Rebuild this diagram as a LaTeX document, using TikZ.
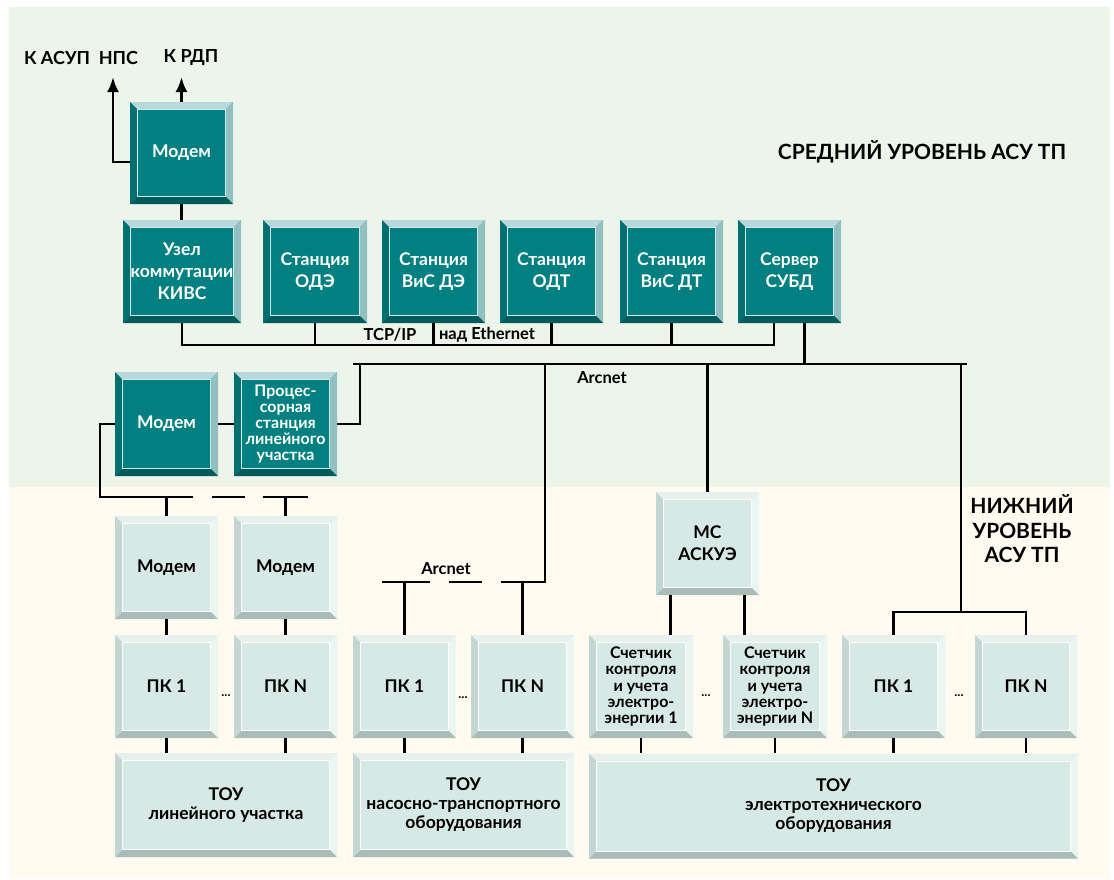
\documentclass[tikz,border=0pt]{standalone}
\usepackage{fontspec}
\setmainfont{Lato}
\usetikzlibrary{arrows.meta}

\definecolor{bgmid}{RGB}{237,244,233}
\definecolor{bglow}{RGB}{255,251,240}
\definecolor{dface}{RGB}{0,128,128}
\definecolor{dtop}{RGB}{185,216,217}
\definecolor{dright}{RGB}{146,192,193}
\definecolor{dbottom}{RGB}{0,92,92}
\definecolor{dleft}{RGB}{0,112,112}
\definecolor{dline}{RGB}{205,232,232}
\definecolor{lface}{RGB}{214,233,229}
\definecolor{ltop}{RGB}{230,241,238}
\definecolor{lright}{RGB}{235,245,242}
\definecolor{lbottom}{RGB}{169,188,184}
\definecolor{lleft}{RGB}{194,214,210}

\tikzset{
  bevel/.style n args={6}{
    fill=#1, inner sep=0pt, align=center,
    minimum width=103pt, minimum height=103pt,
    path picture={
      \path (path picture bounding box.north west) coordinate (bnw)
            (path picture bounding box.north east) coordinate (bne)
            (path picture bounding box.south west) coordinate (bsw)
            (path picture bounding box.south east) coordinate (bse);
      \fill[#2] (bnw) -- (bne) -- ([shift={(-7pt,-7pt)}]bne) -- ([shift={(7pt,-7pt)}]bnw) -- cycle;
      \fill[#3] (bne) -- (bse) -- ([shift={(-7pt,7pt)}]bse) -- ([shift={(-7pt,-7pt)}]bne) -- cycle;
      \fill[#4] (bsw) -- (bse) -- ([shift={(-7pt,7pt)}]bse) -- ([shift={(7pt,7pt)}]bsw) -- cycle;
      \fill[#5] (bnw) -- (bsw) -- ([shift={(7pt,7pt)}]bsw) -- ([shift={(7pt,-7pt)}]bnw) -- cycle;
      \draw[#6, line width=0.9pt] ([shift={(7.5pt,-7.5pt)}]bnw) rectangle ([shift={(-7.5pt,7.5pt)}]bse);
    }},
  darkbox/.style={bevel={dface}{dtop}{dright}{dbottom}{dleft}{dline}, text=white,
    font=\fontsize{17.5}{22}\selectfont\bfseries},
  lightbox/.style={bevel={lface}{ltop}{lright}{lbottom}{lleft}{white}, text=black,
    font=\fontsize{17.5}{22}\selectfont\bfseries},
  smalltext/.style={font=\fontsize{16}{16.2}\selectfont\bfseries},
  toytext/.style={font=\fontsize{17.5}{19}\selectfont\bfseries},
  lbl/.style={inner sep=0pt, font=\fontsize{18}{22}\selectfont\bfseries},
  title/.style={inner sep=0pt, align=center, font=\fontsize{21}{24.5}\selectfont\bfseries},
  netlbl/.style={inner sep=0pt, font=\fontsize{16.5}{18}\selectfont\bfseries},
  dots/.style={inner sep=0pt, font=\fontsize{13}{14}\selectfont\bfseries},
  wire/.style={line width=2.8pt}
}

\begin{document}
\begin{tikzpicture}[x=1pt,y=-1pt]
  % background
  \fill[white] (0,0) rectangle (1114,879);
  \fill[bgmid] (9,7) rectangle (1110,487);
  \fill[bglow] (9,487) rectangle (1110,879);
  \useasboundingbox (0,0) rectangle (1114,879);

  % middle level
  \node[lbl] (asuplbl) at (81,58) {К АСУП\ \ НПС};
  \node[lbl] (rdplbl) at (191,58) {К РДП};
  \coordinate (asup) at (113,77);
  \coordinate (rdp) at (181.5,77);
  \node[title] (midlbl) at (922,152) {СРЕДНИЙ УРОВЕНЬ АСУ ТП};

  \node[darkbox, minimum height=102pt] (modemtop) at (181.5,153) {Модем};
  \node[darkbox, minimum width=118pt] (kivs) at (182,271.5) {Узел\\коммутации\\КИВС};
  \node[darkbox, minimum width=104pt] (ode) at (315,271.5) {Станция\\ОДЭ};
  \node[darkbox] (visde) at (433.5,271.5) {Станция\\ВиС ДЭ};
  \node[darkbox] (odt) at (551.5,271.5) {Станция\\ОДТ};
  \node[darkbox] (visdt) at (671.5,271.5) {Станция\\ВиС ДТ};
  \node[darkbox] (server) at (789.5,271.5) {Сервер\\СУБД};
  \node[darkbox, minimum height=104pt] (modeml) at (166.5,424) {Модем};
  \node[darkbox, smalltext, minimum height=104pt] (proc) at (285.5,424) {Процес-\\сорная\\станция\\линейного\\участка};

  \draw[wire, -{Latex[length=15pt,width=12pt]}] ([yshift=-9pt]modemtop.west) -| (asup);
  \draw[wire, -{Latex[length=15pt,width=12pt]}] (modemtop.north) -- (rdp);
  \draw[wire] (modemtop.south) -- (modemtop.south |- kivs.north);

  % TCP/IP
  \coordinate (tcpl) at (182,345);
  \coordinate (tcpr) at (774,345);
  \draw[wire] (kivs.south) -- (tcpl) -- (tcpr) -- (tcpr |- server.south);
  \foreach \st in {ode,visde,odt,visdt}
    \draw[wire] (\st.south) -- (\st.south |- tcpl);
  \node[netlbl] (tcplbl) at (390,335) {TCP/IP};
  \node[netlbl] (ethlbl) at (487,335) {над Ethernet};

  % Arcnet
  \coordinate (arcl) at (353,364);
  \coordinate (arcr) at (967,364);
  \coordinate (arcp) at (360,364);
  \draw[wire] (arcl) -- (arcr);
  \draw[wire] ([xshift=15pt]server.south) -- ([xshift=15pt]server.south |- arcl);
  \draw[wire] (proc.east) -| (arcp);
  \draw[wire] (modeml.east) -- (proc.west);
  \node[netlbl] (arclbl) at (602,378) {Arcnet};

  % lower level
  \node[title] (lowlbl) at (1022,529) {НИЖНИЙ\\УРОВЕНЬ\\АСУ ТП};

  \node[lightbox] (modem1) at (166.5,567.5) {Модем};
  \node[lightbox] (modem2) at (285.5,567.5) {Модем};
  \node[lightbox] (mc) at (707.5,543.5) {МС\\АСКУЭ};

  \node[lightbox] (pka1) at (166.5,686.5) {ПК 1};
  \node[lightbox] (pkan) at (285.5,686.5) {ПК N};
  \node[lightbox] (pkb1) at (404.5,686.5) {ПК 1};
  \node[lightbox] (pkbn) at (522.5,686.5) {ПК N};
  \node[lightbox, smalltext, minimum width=104pt] (cnt1) at (641,686.5) {Счетчик\\контроля\\и учета\\электро-\\энергии 1};
  \node[lightbox, smalltext, minimum width=104pt] (cntn) at (775,686.5) {Счетчик\\контроля\\и учета\\электро-\\энергии N};
  \node[lightbox] (pkc1) at (893.5,686.5) {ПК 1};
  \node[lightbox, minimum width=102pt] (pkcn) at (1026,686.5) {ПК N};

  \node[dots] (dotsa) at (226,696) {...};
  \node[dots] (dotsb) at (463,698) {...};
  \node[dots] (dotsc) at (706,696) {...};
  \node[dots] (dotsd) at (959,696) {...};

  \node[lightbox, toytext, minimum width=222pt, minimum height=104pt] (toy1) at (226,805) {ТОУ\\линейного участка};
  \node[lightbox, toytext, minimum width=221pt, minimum height=104pt] (toy2) at (463.5,805) {ТОУ\\насосно-транспортного\\оборудования};
  \node[lightbox, toytext, minimum width=489pt, minimum height=105pt] (toy3) at (833.5,806) {ТОУ\\электротехнического\\оборудования};

  % modem line
  \coordinate (mbl) at (100,497);
  \coordinate (mba) at (193,497);
  \coordinate (mbb) at (212,497);
  \coordinate (mbc) at (245,497);
  \coordinate (mbd) at (263,497);
  \coordinate (mbe) at (308,497);
  \draw[wire] (modeml.west) -| (mbl) -- (mba);
  \draw[wire] (mbb) -- (mbc);
  \draw[wire] (mbd) -- (mbe);
  \draw[wire] (modem1.north) -- (modem1.north |- mbl);
  \draw[wire] (modem2.north) -- (modem2.north |- mbl);
  \draw[wire] (modem1.south) -- (pka1.north);
  \draw[wire] (modem2.south) -- (pkan.north);

  % lower Arcnet
  \coordinate (lat) at (545,364);
  \coordinate (lal) at (382,582);
  \coordinate (lab) at (430,582);
  \coordinate (lac) at (449,582);
  \coordinate (lad) at (482,582);
  \coordinate (lae) at (501,582);
  \coordinate (laf) at (545,582);
  \draw[wire] (lat) -- (laf) -- (lae);
  \draw[wire] (lac) -- (lad);
  \draw[wire] (lal) -- (lab);
  \draw[wire] (pkb1.north) -- (pkb1.north |- lal);
  \draw[wire] (pkbn.north) -- (pkbn.north |- lal);
  \node[netlbl] (arclbl2) at (446,569) {Arcnet};

  % energy
  \draw[wire] (mc.north) -- (mc.north |- arcl);
  \draw[wire] ([xshift=-37pt]mc.south) -- ([xshift=-37pt]mc.south |- cnt1.north);
  \draw[wire] ([xshift=37pt]mc.south) -- ([xshift=37pt]mc.south |- cntn.north);

  % right group
  \coordinate (arcc) at (961,364);
  \coordinate (brc) at (961,612);
  \draw[wire] (arcc) -- (brc);
  \draw[wire] (pkc1.north) |- (brc) -| (pkcn.north);

  \foreach \pk/\ty in {pka1/toy1, pkan/toy1, pkb1/toy2, pkbn/toy2,
                       cnt1/toy3, cntn/toy3, pkc1/toy3, pkcn/toy3}
    \draw[wire] (\pk.south) -- (\pk.south |- \ty.north);
\end{tikzpicture}
\end{document}
